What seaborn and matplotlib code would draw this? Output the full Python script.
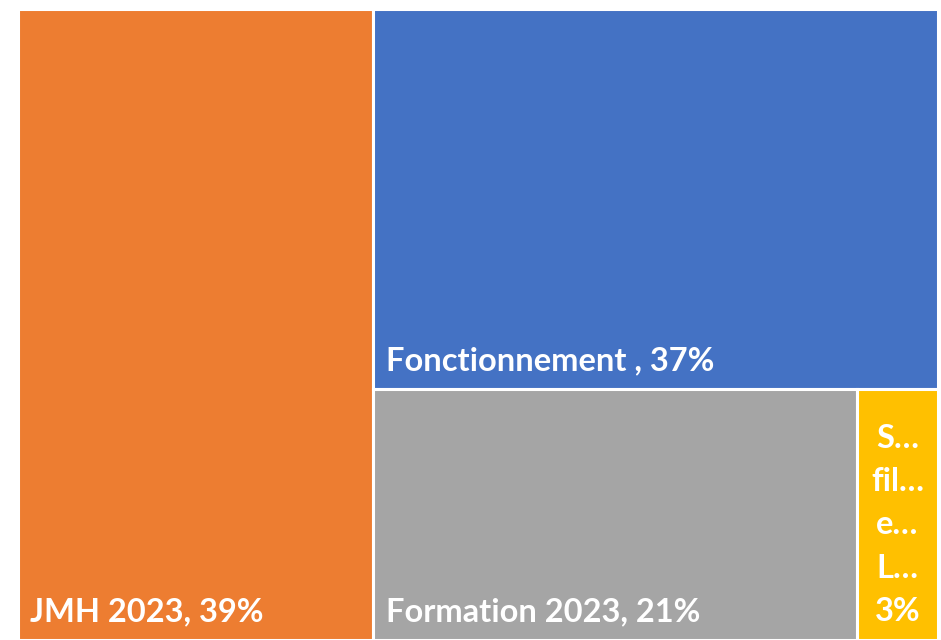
import matplotlib.pyplot as plt
import seaborn as sns
import pandas as pd
from matplotlib.patches import Rectangle

# values (share of total, %)
categories = ["JMH 2023", "Fonctionnement ", "Formation 2023", "S…\nfil…\ne…\nL…"]
shares = [38.6, 37.0, 20.9, 3.5]
labels_pct = ["39%", "37%", "21%", "3%"]
colors = ["#ED7D31", "#4472C4", "#A5A5A5", "#FFC000"]

df = pd.DataFrame({"category": categories, "share": shares,
                   "pct": labels_pct, "color": colors})


def slice_layout(values, x, y, w, h):
    """Take each item off the longer side of what is left."""
    rects = []
    total = sum(values)
    for v in values:
        frac = v / total
        if w >= h:
            cw = w * frac
            rects.append((x, y, cw, h))
            x += cw
            w -= cw
        else:
            ch = h * frac
            # first item goes on top
            rects.append((x, y + h - ch, w, ch))
            h -= ch
        total -= v
    return rects


sns.set_theme(style="white")
plt.rcParams['font.family'] = ['Lato', 'DejaVu Sans']

fig = plt.figure(figsize=(9.41, 6.4), dpi=100)
ax = fig.add_axes([18 / 941, 0, 920 / 941, 631 / 640])

W, H = 920, 631
rects = slice_layout(df["share"].tolist(), 0, 0, W, H)

for (rx, ry, rw, rh), row in zip(rects, df.itertuples()):
    ax.add_patch(Rectangle((rx, ry), rw, rh, facecolor=row.color,
                           edgecolor="white", linewidth=2.2))
    if rw > 150:
        ax.annotate(f"{row.category}, {row.pct}", (rx, ry),
                    xytext=(9, 10), textcoords="offset points",
                    ha="left", va="bottom", color="white",
                    fontsize=23.5, fontweight="bold")
    else:
        ax.annotate(f"{row.category}\n{row.pct}", (rx + rw / 2, ry),
                    xytext=(0, 10), textcoords="offset points",
                    ha="center", va="bottom", color="white",
                    fontsize=23.5, fontweight="bold", linespacing=1.6)

ax.set_xlim(0, W)
ax.set_ylim(0, H)
ax.axis("off")

fig.savefig("out.png", dpi=100)
plt.close(fig)
